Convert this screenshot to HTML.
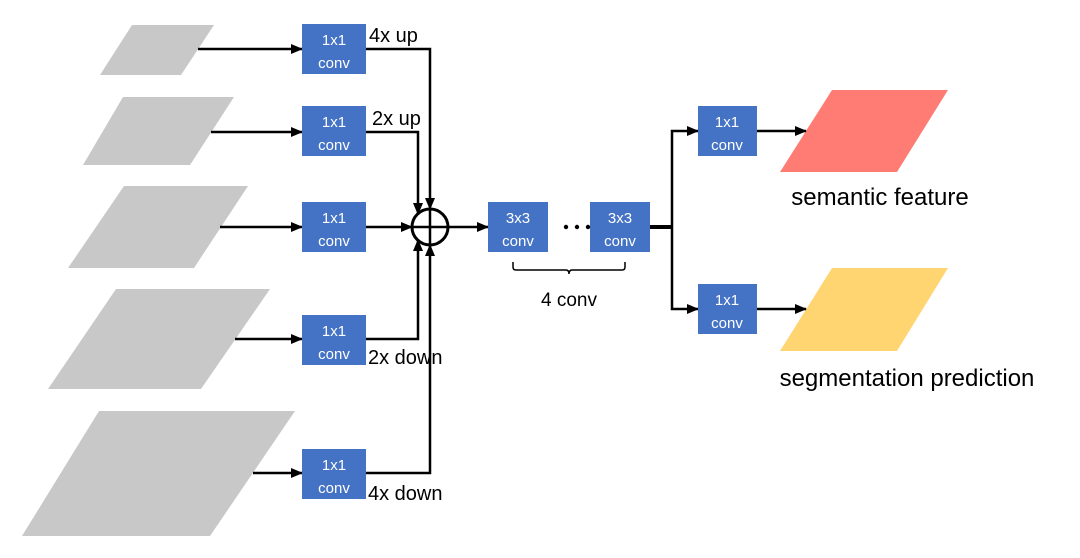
<!DOCTYPE html>
<html><head><style>body{margin:0;background:#fff}svg{display:block}</style></head><body>
<svg width="1080" height="558" viewBox="0 0 1080 558" xmlns="http://www.w3.org/2000/svg" font-family="Liberation Sans, sans-serif">
<defs><marker id="a" markerWidth="12" markerHeight="10" refX="11" refY="5" orient="auto" markerUnits="userSpaceOnUse"><path d="M0,0 L12,5 L0,10 z" fill="#000"/></marker></defs>
<g fill="#c8c8c8">
<polygon points="132,25 214,25 181,75 100,75"/>
<polygon points="123,97 234,97 190,165 83,165"/>
<polygon points="124,186 248,186 194,268 68,268"/>
<polygon points="116,289 270,289 201,389 48,389"/>
<polygon points="99,411 295,411 210,536 22,536"/>
</g>
<polygon points="832,90 948,90 897,172 780,172" fill="#ff7c75"/>
<polygon points="832,268 948,268 897,351 780,351" fill="#ffd571"/>
<g stroke="#000" stroke-width="2.5" fill="none">
<line x1="198" y1="49" x2="302" y2="49" marker-end="url(#a)"/>
<line x1="211" y1="132" x2="302" y2="132" marker-end="url(#a)"/>
<line x1="220" y1="227" x2="302" y2="227" marker-end="url(#a)"/>
<line x1="235" y1="339" x2="302" y2="339" marker-end="url(#a)"/>
<line x1="253" y1="473" x2="302" y2="473" marker-end="url(#a)"/>
<polyline points="366,49 430,49 430,209" marker-end="url(#a)"/>
<polyline points="366,132 418,132 418,214" marker-end="url(#a)"/>
<line x1="366" y1="227" x2="412" y2="227" marker-end="url(#a)"/>
<polyline points="366,339 418,339 418,240" marker-end="url(#a)"/>
<polyline points="366,473 430,473 430,245" marker-end="url(#a)"/>
<circle cx="430" cy="227" r="18" stroke-width="3"/>
<line x1="412" y1="227" x2="448" y2="227"/>
<line x1="430" y1="209" x2="430" y2="245"/>
<line x1="448" y1="227" x2="488" y2="227" marker-end="url(#a)"/>
<line x1="650" y1="227" x2="672" y2="227" stroke-width="4"/>
<polyline points="672,227 672,131 698,131" marker-end="url(#a)"/>
<polyline points="672,227 672,309 698,309" marker-end="url(#a)"/>
<line x1="757" y1="131" x2="806" y2="131" marker-end="url(#a)"/>
<line x1="757" y1="309" x2="806" y2="309" marker-end="url(#a)"/>
<path d="M513,262 v5 q0,3 3,3 h50 q3,0 3,4 q0,-4 3,-4 h50 q3,0 3,-3 v-5" stroke-width="1.5"/>
</g>
<g fill="#4472c4">
<rect x="302" y="24" width="64" height="50"/><rect x="302" y="106" width="64" height="50"/>
<rect x="302" y="202" width="64" height="50"/><rect x="302" y="315" width="64" height="50"/>
<rect x="302" y="449" width="64" height="50"/>
<rect x="488" y="202" width="60" height="50"/><rect x="590" y="202" width="60" height="50"/>
<rect x="698" y="106" width="59" height="50"/><rect x="698" y="284" width="59" height="50"/>
</g>
<g fill="#fff" font-size="15" text-anchor="middle">
<text x="334" y="45">1x1</text><text x="334" y="68">conv</text>
<text x="334" y="127">1x1</text><text x="334" y="150">conv</text>
<text x="334" y="223">1x1</text><text x="334" y="246">conv</text>
<text x="334" y="336">1x1</text><text x="334" y="359">conv</text>
<text x="334" y="470">1x1</text><text x="334" y="493">conv</text>
<text x="518" y="223">3x3</text><text x="518" y="246">conv</text>
<text x="620" y="223">3x3</text><text x="620" y="246">conv</text>
<text x="727" y="127">1x1</text><text x="727" y="150">conv</text>
<text x="727" y="305">1x1</text><text x="727" y="328">conv</text>
</g>
<g fill="#000" font-size="20">
<text x="369" y="42">4x up</text>
<text x="372" y="125">2x up</text>
<text x="368" y="364">2x down</text>
<text x="368" y="500">4x down</text>
<text x="569" y="306" text-anchor="middle" font-size="19">4 conv</text>
<text x="880" y="205" text-anchor="middle" font-size="24">semantic feature</text>
<text x="907" y="386" text-anchor="middle" font-size="24">segmentation prediction</text>
</g>
<g fill="#000"><circle cx="566" cy="227" r="2.2"/><circle cx="577" cy="227" r="2.2"/><circle cx="588" cy="227" r="2.2"/></g>
</svg>
</body></html>
